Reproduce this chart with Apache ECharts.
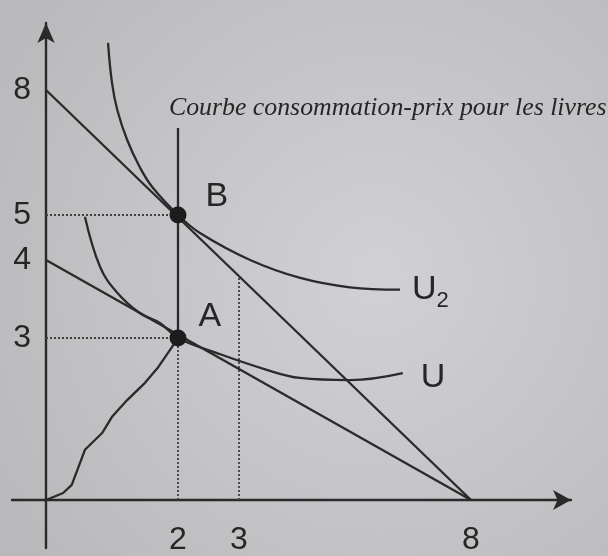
<!DOCTYPE html>
<html>
<head>
<meta charset="utf-8">
<script src="https://cdn.jsdelivr.net/npm/echarts@6/dist/echarts.min.js"></script>
<style>
  html, body { margin: 0; padding: 0; }
  #chart { width: 608px; height: 556px; }
</style>
</head>
<body>
<div id="chart"></div>
<script>
// Quantities: x = livres (books), y = other good
const xTicks = [2, 3, 8];
const yTicks = [3, 4, 5, 8];

const budgetHigh = [[0, 8], [8, 0]];
const budgetLow = [[0, 4], [8, 0]];

const curveU2 = [
  [0.94, 9.13], [1.0, 8.17], [1.08, 7.52], [1.23, 6.8], [1.42, 6.15], [1.61, 5.67],
  [2, 5], [2.36, 4.6], [3.24, 4.0], [4.32, 3.77], [5.39, 3.65], [6.47, 3.62]
];
const curveU = [
  [0.59, 4.96], [0.82, 3.91], [1.08, 3.58], [1.42, 3.32], [1.73, 3.19],
  [2, 3], [2.64, 2.72], [3.6, 2.41], [4.31, 2.26], [5.39, 2.22], [6.53, 2.35]
];
const priceConsumption = [
  [0, 0], [0.26, 0.13], [0.39, 0.28], [0.59, 0.93], [0.85, 1.24], [1.0, 1.54],
  [1.23, 1.85], [1.5, 2.17], [1.7, 2.46], [1.88, 2.78], [2, 3], [2, 7.09]
];

const pointA = [2, 3];
const pointB = [2, 5];

const guides = [
  [[0, 5], [2, 5]],
  [[0, 3], [2, 3]],
  [[2, 0], [2, 3]],
  [[3, 0], [3, 3.79]]
];

const titleText = 'Courbe consommation-prix pour les livres';

// Schematic (not-to-scale) axes: piecewise-linear mapping from quantity to axis units
const xKnots = [[0, 0], [2, 132], [3, 193], [8, 425]];
const yKnots = [[0, 0], [3, 162], [4, 240], [5, 285], [8, 410]];

function warp(knots, v) {
  let i = 1;
  while (i < knots.length - 1 && v > knots[i][0]) i++;
  const [v0, p0] = knots[i - 1];
  const [v1, p1] = knots[i];
  return p0 + (v - v0) * (p1 - p0) / (v1 - v0);
}
const toAxis = pts => pts.map(([x, y]) => [warp(xKnots, x), warp(yKnots, y)]);
function tickLabel(knots, ticks, u) {
  const t = ticks.find(v => Math.abs(warp(knots, v) - u) < 0.5);
  return t === undefined ? '' : String(t);
}

const ink = '#2a2a2a';
const textInk = '#262626';
const plainLine = (data, extra) => Object.assign({
  type: 'line', data: toAxis(data), symbol: 'none', silent: true,
  lineStyle: { color: ink, width: 2.3 }
}, extra || {});

const series = [
  plainLine(budgetHigh),
  plainLine(budgetLow),
  plainLine(curveU2, {
    smooth: 0.4,
    endLabel: {
      show: true, distance: 12,
      formatter: '{u|U}{s|2}',
      rich: {
        u: { fontSize: 34, fontFamily: 'Liberation Sans', color: textInk },
        s: { fontSize: 22, fontFamily: 'Liberation Sans', color: textInk, verticalAlign: 'bottom', lineHeight: 44 }
      }
    }
  }),
  plainLine(curveU, {
    smooth: 0.4,
    endLabel: {
      show: true, distance: 18, offset: [0, 5], formatter: 'U',
      fontSize: 34, fontFamily: 'Liberation Sans', color: textInk
    }
  }),
  plainLine(priceConsumption)
];

guides.forEach(g => series.push({
  type: 'line', data: toAxis(g), symbol: 'none', silent: true,
  lineStyle: { color: '#404040', width: 1.8, type: [2, 2] }
}));

series.push({
  type: 'scatter', silent: true, symbolSize: 17,
  itemStyle: { color: '#1c1c1c', opacity: 1 },
  data: [
    { value: toAxis([pointB])[0], name: 'B', label: { distance: 19, offset: [0, -18] } },
    { value: toAxis([pointA])[0], name: 'A', label: { distance: 12, offset: [0, -21] } }
  ],
  label: {
    show: true, position: 'right', formatter: '{b}', opacity: 1,
    fontSize: 34, fontFamily: 'Liberation Sans', color: textInk
  },
  z: 5
});

const chart = echarts.init(document.getElementById('chart'));
chart.setOption({
  animation: false,
  backgroundColor: {
    type: 'radial', x: 0.62, y: 0.5, r: 0.8,
    colorStops: [
      { offset: 0, color: '#d1d0d5' },
      { offset: 1, color: '#b9b9bb' }
    ]
  },
  title: {
    text: titleText, left: 164, top: 90,
    textStyle: {
      fontFamily: 'Liberation Serif', fontStyle: 'italic', fontWeight: 'normal',
      fontSize: 25.8, color: '#262626'
    }
  },
  grid: { left: 12, right: 37, top: 23, bottom: 8, outerBoundsMode: 'none', containLabel: false },
  xAxis: {
    type: 'value', min: -34, max: 525,
    axisLine: {
      onZero: true, symbol: ['none', 'arrow'], symbolSize: [15, 18],
      lineStyle: { color: ink, width: 2.4 }
    },
    axisTick: { show: false },
    splitLine: { show: false },
    axisLabel: {
      customValues: xTicks.map(v => warp(xKnots, v)),
      formatter: u => tickLabel(xKnots, xTicks, u),
      margin: -24, fontSize: 32, fontFamily: 'Liberation Sans', color: textInk
    }
  },
  yAxis: {
    type: 'value', min: -48, max: 477,
    axisLine: {
      onZero: true, symbol: ['none', 'arrow'], symbolSize: [13, 20],
      lineStyle: { color: ink, width: 2.4 }
    },
    axisTick: { show: false },
    splitLine: { show: false },
    axisLabel: {
      customValues: yTicks.map(v => warp(yKnots, v)),
      formatter: u => tickLabel(yKnots, yTicks, u),
      margin: -19, fontSize: 32, fontFamily: 'Liberation Sans', color: textInk
    }
  },
  series: series
});
</script>
</body>
</html>
